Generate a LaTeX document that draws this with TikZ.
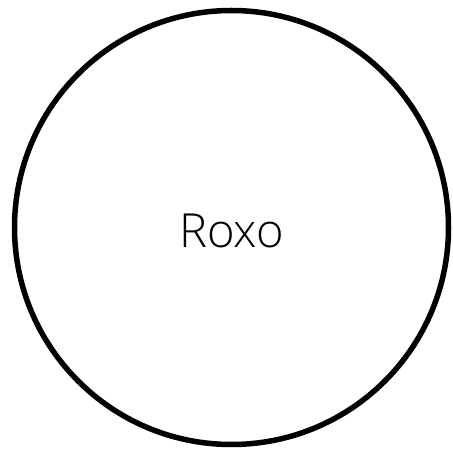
\documentclass[tikz,border=0pt]{standalone}
\usepackage{fontspec}
\setmainfont{Open Sans Light}
\begin{document}
\begin{tikzpicture}[x=1pt,y=1pt]
\useasboundingbox (0,0) rectangle (453,450);
\node[circle, draw, line width=5.5pt, minimum size=434pt, inner sep=0pt] (c) at (231.5,222.5) {};
\node[anchor=base, inner sep=0pt, font=\fontsize{47}{54}\selectfont] (t) at (231.5,202) {Roxo};
\end{tikzpicture}
\end{document}
